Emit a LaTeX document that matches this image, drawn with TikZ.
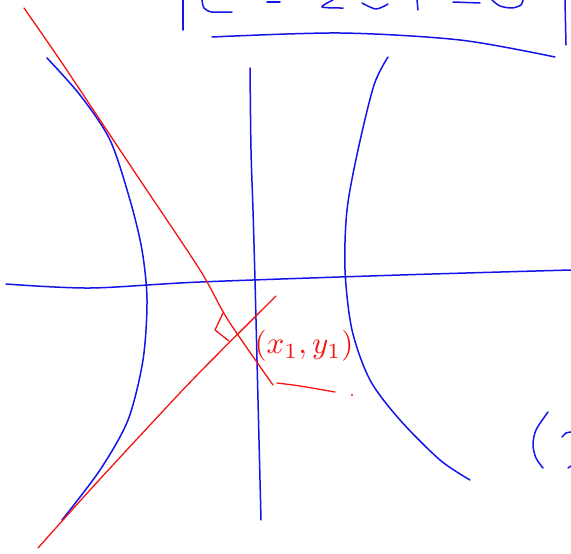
\documentclass[tikz,border=0pt]{standalone}
\usepackage{tikz}
\definecolor{penblue}{RGB}{20,20,235}
\definecolor{penred}{RGB}{245,20,20}
\tikzset{
  bluepen/.style={draw=penblue,line width=1.5pt,line cap=round,line join=round},
  redpen/.style={draw=penred,line width=1.3pt,line cap=round,line join=round},
}
\begin{document}
\begin{tikzpicture}[x=1pt,y=-1pt]
\useasboundingbox[fill=white] (0,0) rectangle (571,554);
% top: bottoms of cut-off handwritten text and box
\draw[bluepen] (183,0) -- (183,30);
\draw[bluepen] plot[smooth] coordinates {(202,0) (204,8) (212,12) (232,12)};
\draw[bluepen] (267,2) -- (280,2);
\draw[bluepen] plot[smooth] coordinates {(333,0) (322,7) (343,8)};
\draw[bluepen] plot[smooth] coordinates {(362,3) (376,9) (388,4)};
\draw[bluepen] (417,0) -- (418,10);
\draw[bluepen] (453,2) -- (480,3);
\draw[bluepen] plot[smooth] coordinates {(492,0) (500,6) (512,8) (521,5) (523,0)};
\draw[bluepen] (565,0) -- (566,45);
\draw[bluepen] plot[smooth] coordinates {(212,37) (340,33) (460,40) (555,57)};
% axes
\draw[bluepen] plot[smooth] coordinates {(250,68) (251,150) (253,210) (255,280) (257,360) (259,440) (261,520)};
\draw[bluepen] plot[smooth] coordinates {(6,284) (90,288) (200,282) (400,275) (571,270)};
% hyperbola branches
\draw[bluepen] plot[smooth] coordinates {(47,58) (80,95) (110,140) (130,200) (142,250) (147,300) (143,360) (128,420) (100,470) (62,520)};
\draw[bluepen] plot[smooth] coordinates {(388,57) (374,85) (358,150) (347,210) (345,270) (352,330) (370,380) (400,420) (440,460) (470,480)};
% right edge partial text
\draw[bluepen] plot[smooth] coordinates {(548,412) (536,430) (533,445) (536,458) (543,468)};
\draw[bluepen] plot[smooth] coordinates {(562,437) (566,433) (571,432)};
\draw[bluepen] plot[smooth] coordinates {(568,468) (571,466)};
% red lines
\draw[redpen] plot[smooth] coordinates {(24,8) (60,60) (100,120) (140,180) (200,270) (228,320) (273,385)};
\draw[redpen] plot[smooth] coordinates {(38,548) (90,490) (150,425) (200,372) (276,296)};
% right angle mark
\draw[redpen] (223,313) -- (215,330) -- (229,341);
% label
\node[text=penred,scale=3.1,anchor=center,inner sep=0pt] (lbl) at (304,346) {$(x_1,y_1)$};
\draw[redpen] plot[smooth] coordinates {(277,383) (300,386) (335,392)};
\fill[penred] (352,395) circle (1.2);
\end{tikzpicture}
\end{document}
